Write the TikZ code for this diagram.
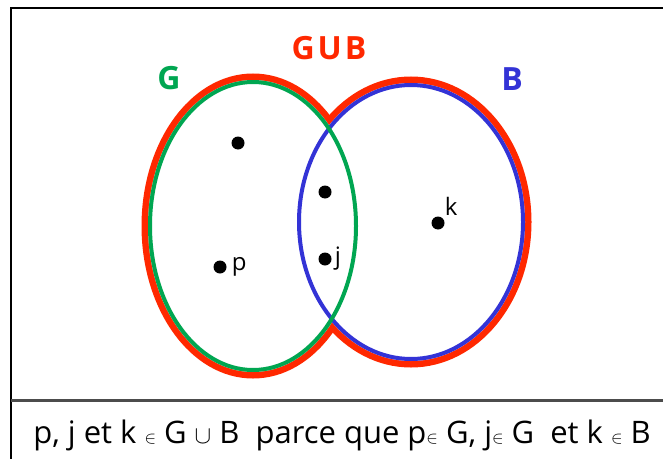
\documentclass[tikz,border=0pt]{standalone}
\usepackage{fontspec}
\setmainfont{Open Sans}
\usetikzlibrary{positioning}
\definecolor{unionred}{RGB}{255,40,0}
\definecolor{setgreen}{RGB}{0,166,81}
\definecolor{setblue}{RGB}{51,51,214}
\newcommand{\appart}{{\fontsize{19}{19}\selectfont$\in$}}

\begin{document}
\begin{tikzpicture}[x=1pt, y=1pt,
  elem/.style={circle, fill=black, inner sep=0pt, minimum size=13pt},
  elabel/.style={font=\fontsize{24}{24}\selectfont, inner sep=1pt},
  setname/.style={font=\fontsize{32}{32}\selectfont\bfseries},
]
\useasboundingbox (0,0) rectangle (663,459);

% Frame
\draw[line width=2.5pt] (663,451) -| (11,0);
\draw[line width=3pt, black!70] (11,59) -- (663,59);

% Union outline
\draw[unionred, line width=13pt] (253,233) ellipse [x radius=105, y radius=146];
\draw[unionred, line width=13pt] (411,237) ellipse [x radius=114, y radius=139];
\fill[white] (253,233) ellipse [x radius=105, y radius=146];
\fill[white] (411,237) ellipse [x radius=114, y radius=139];

% Sets G and B
\draw[setblue, line width=4pt] (411,237) ellipse [x radius=112, y radius=137];
\draw[setgreen, line width=4pt] (253,233) ellipse [x radius=103, y radius=144];

% Set names
\node[setname, setgreen] (gname) at (169,381) {G};
\node[setname, unionred] (uname) at (329,411) {G\kern3pt U\kern3pt B};
\node[setname, setblue] (bname) at (512,380) {B};

% Elements
\node[elem] (e1) at (238,316) {};
\node[elem] (e2) at (325,267) {};
\node[elem] (j) at (325,200) {};
\node[elem] (p) at (220,192) {};
\node[elem] (k) at (438,236) {};
\node[elabel, right=4pt of p] {p};
\node[elabel, right=2pt of j] {j};
\node[elabel, above right=2pt and 1pt of k] {k};

% Caption
\node[anchor=base, font=\fontsize{31}{31}\selectfont, inner sep=0pt] (caption) at (342,16)
     {p, j et k \appart\ G $\cup$ B \ parce que p\appart\ G, j\appart\ G \ et k \appart\ B};

\end{tikzpicture}
\end{document}
